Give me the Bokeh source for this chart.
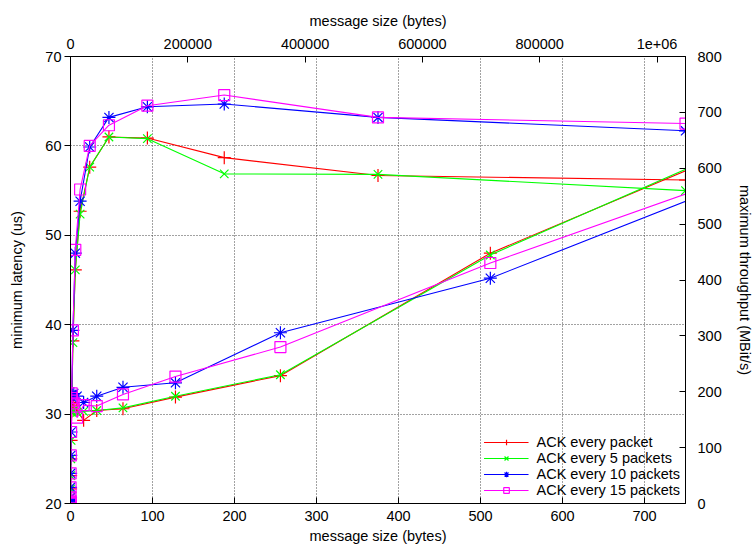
from bokeh.plotting import figure
from bokeh.models import LinearAxis, Range1d, FixedTicker
from bokeh.embed import file_html
from bokeh.resources import INLINE

# ---- data ----
sizes_lat = [1, 2, 4, 8, 16, 32, 64, 128, 256, 512, 1024]
lat_ack1 = [31.3, 31.2, 31.0, 30.4, 29.3, 30.4, 30.6, 31.9, 34.3, 48.0, 67.8]
lat_ack5 = [30.2, 30.3, 30.4, 30.2, 30.3, 30.4, 30.7, 32.0, 34.4, 47.8, 68.4]
lat_ack10 = [32.2, 32.1, 32.3, 32.0, 31.3, 32.0, 33.0, 33.5, 39.1, 45.2, 63.7]
lat_ack15 = [31.8, 31.5, 31.2, 29.6, 31.0, 30.9, 32.2, 34.2, 37.5, 46.9, 63.5]

sizes_thr = [1, 2, 4, 8, 16, 32, 64, 128, 256, 512, 1024, 2048, 4096, 8192,
             16384, 32768, 65536, 131072, 262144, 524288, 1048576]
thr_ack1 = [0.14, 0.28, 0.55, 1.1, 2.3, 4.6, 10, 26, 50, 80, 113, 165, 291, 418,
            523, 602, 656, 654, 619, 587, 579]
thr_ack5 = [0.14, 0.28, 0.55, 1.1, 2.3, 4.6, 10, 26, 50, 80, 113, 165, 288, 418,
            518, 602, 656, 653, 590, 589, 560]
thr_ack10 = [0.15, 0.3, 0.6, 1.2, 2.5, 5, 11, 29, 54, 86, 128, 190, 310, 448,
             541, 638, 691, 710, 715, 691, 667]
thr_ack15 = [0.15, 0.3, 0.6, 1.2, 2.5, 5, 11, 29, 54, 86, 128, 197, 310, 454,
             562, 640, 677, 712, 731, 691, 680]

labels = ["ACK every packet", "ACK every 5 packets", "ACK every 10 packets", "ACK every 15 packets"]
colors = ["#ff0000", "#00ff00", "#0000ff", "#ff00ff"]
markers = ["cross", "x", "asterisk", "square"]
msizes = [13, 12, 13, 11]

left_ticks = [20, 30, 40, 50, 60, 70]
bottom_ticks = [0, 100, 200, 300, 400, 500, 600, 700]
top_ticks = [0, 200000, 400000, 600000, 800000, 1000000]
top_tick_labels = ["0", "200000", "400000", "600000", "800000", "1e+06"]
right_ticks = [0, 100, 200, 300, 400, 500, 600, 700, 800]

FONT = "Liberation Sans"
FS = "14.5px"

p = figure(width=755, height=550, output_backend="svg", toolbar_location=None,
           x_range=Range1d(0, 750), y_range=Range1d(20, 70),
           min_border_left=70, min_border_right=66, min_border_top=56, min_border_bottom=47)
p.extra_x_ranges = {"top": Range1d(0, 1048576)}
p.extra_y_ranges = {"thr": Range1d(0, 800)}

p.outline_line_color = "black"
p.outline_line_width = 1
p.background_fill_color = "white"
p.border_fill_color = "white"

def style(ax):
    ax.major_label_text_font = FONT
    ax.major_label_text_font_size = FS
    ax.major_label_text_color = "black"
    ax.axis_label_text_font = FONT
    ax.axis_label_text_font_size = FS
    ax.axis_label_text_font_style = "normal"
    ax.axis_label_text_color = "black"
    ax.axis_line_color = "black"
    ax.major_tick_line_color = "black"
    ax.minor_tick_line_color = None

# bottom axis
xa = p.xaxis[0]
style(xa)
xa.ticker = FixedTicker(ticks=bottom_ticks)
xa.axis_label = "message size (bytes)"
xa.major_tick_in = 6
xa.major_tick_out = 0
xa.major_label_standoff = 7
xa.axis_label_standoff = 4

# left axis
ya = p.yaxis[0]
style(ya)
ya.ticker = FixedTicker(ticks=left_ticks)
ya.axis_label = "minimum latency (us)"
ya.major_tick_in = 0
ya.major_tick_out = 6
ya.major_label_standoff = 3
ya.axis_label_standoff = 17

# top axis
ta = LinearAxis(x_range_name="top", ticker=FixedTicker(ticks=top_ticks),
                major_label_overrides={t: l for t, l in zip(top_ticks, top_tick_labels)},
                axis_label="message size (bytes)")
style(ta)
ta.major_tick_in = 6
ta.major_tick_out = 0
ta.major_label_standoff = 8
ta.axis_label_standoff = 7
p.add_layout(ta, "above")

# right axis
ra = LinearAxis(y_range_name="thr", ticker=FixedTicker(ticks=right_ticks),
                axis_label="maximum throughput (MBit/s)")
style(ra)
ra.major_tick_in = 6
ra.major_tick_out = 0
ra.major_label_standoff = 12
ra.axis_label_standoff = 12
p.add_layout(ra, "right")

# grid
for g in (p.xgrid[0], p.ygrid[0]):
    g.grid_line_color = "#444444"
    g.grid_line_dash = "1 2"
    g.grid_line_width = 1
p.xgrid[0].ticker = FixedTicker(ticks=bottom_ticks[1:])
p.ygrid[0].ticker = FixedTicker(ticks=left_ticks[1:-1])

lat_series = [lat_ack1, lat_ack5, lat_ack10, lat_ack15]
thr_series = [thr_ack1, thr_ack5, thr_ack10, thr_ack15]

for lab, col, mk, ms, lat, thr in zip(labels, colors, markers, msizes, lat_series, thr_series):
    # throughput (top x / right y)
    p.line(sizes_thr, thr, x_range_name="top", y_range_name="thr", line_color=col, line_width=1.1)
    p.scatter(sizes_thr, thr, x_range_name="top", y_range_name="thr", marker=mk, size=ms,
              line_color=col, fill_color=None, line_width=1.2)
    # latency (bottom x / left y)
    p.line(sizes_lat, lat, line_color=col, line_width=1.1, legend_label=lab)
    p.scatter(sizes_lat, lat, marker=mk, size=ms, line_color=col, fill_color=None,
              line_width=1.2, legend_label=lab)

lg = p.legend[0]
lg.location = "bottom_right"
lg.border_line_alpha = 0
lg.background_fill_alpha = 0
lg.label_text_font = FONT
lg.label_text_font_size = FS
lg.label_text_color = "black"
lg.glyph_width = 45
lg.glyph_height = 14
lg.label_height = 14
lg.spacing = 0
lg.padding = 2
lg.margin = 3
lg.label_standoff = 8

open("out.html", "w").write(file_html(p, INLINE))
